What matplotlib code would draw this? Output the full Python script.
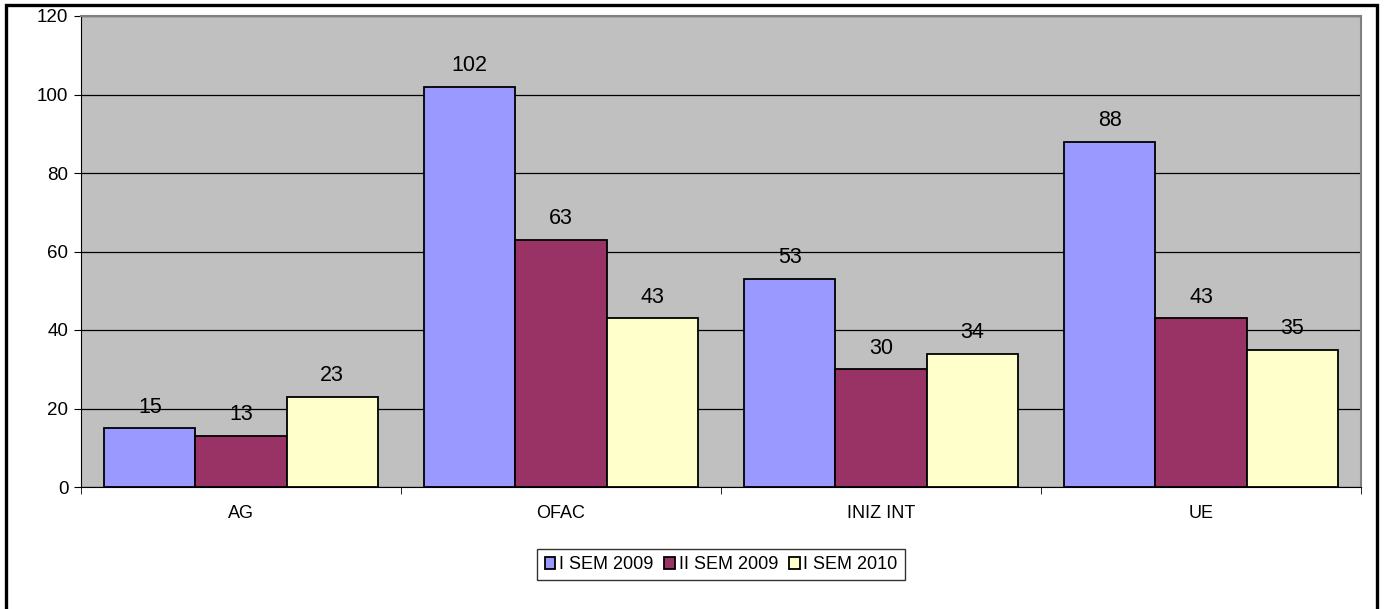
import numpy as np
import matplotlib.pyplot as plt
from matplotlib.patches import Rectangle

# data
categories = ["AG", "OFAC", "INIZ INT", "UE"]
series_names = ["I SEM 2009", "II SEM 2009", "I SEM 2010"]
sem1_2009 = [15, 102, 53, 88]
sem2_2009 = [13, 63, 30, 43]
sem1_2010 = [23, 43, 34, 35]
colors = ["#9999FF", "#993366", "#FFFFCC"]

plt.rcParams['font.family'] = ['Liberation Sans', 'DejaVu Sans']

fig = plt.figure(figsize=(13.86, 6.09), dpi=100)
W, H = 1386, 609
ax = fig.add_axes([81 / W, 1 - 487 / H, (1361 - 81) / W, (487 - 16) / H])
ax.set_facecolor("#C0C0C0")

x = np.arange(len(categories))
bw = 0.285
for i, (vals, name) in enumerate(zip([sem1_2009, sem2_2009, sem1_2010], series_names)):
    pos = x + (i - 1) * bw
    ax.bar(pos, vals, width=bw, color=colors[i], edgecolor="black",
           linewidth=1.3, label=name, zorder=3)
    for p, v in zip(pos, vals):
        ax.text(p, v + 2.7, str(v), ha="center", va="bottom", fontsize=15.5, zorder=4)

ax.set_xlim(-0.5, len(categories) - 0.5)
ax.set_ylim(0, 120)
ax.set_yticks(range(0, 121, 20))
ax.yaxis.grid(True, color="black", linewidth=0.9, zorder=1)
ax.set_axisbelow(True)

ax.set_xticks(x)
ax.set_xticklabels(categories, fontsize=13)
ax.set_xticks(np.arange(-0.5, len(categories), 1), minor=True)
ax.tick_params(axis="x", which="major", length=0, pad=13)
ax.tick_params(axis="x", which="minor", length=5, direction="out", color="black")
ax.tick_params(axis="y", length=5, direction="out", labelsize=13.5, pad=4)

for s in ["top", "right"]:
    ax.spines[s].set_color("#808080")
    ax.spines[s].set_linewidth(1.5)
ax.spines["left"].set_color("black")
ax.spines["bottom"].set_color("black")

leg = ax.legend(loc="center", bbox_to_anchor=(0.5, -0.165), ncol=3, fontsize=13,
                frameon=True, fancybox=False, edgecolor="black", handlelength=0.6,
                handleheight=0.6, handletextpad=0.2, columnspacing=0.6,
                borderpad=0.4)
leg.get_frame().set_linewidth(1.0)

# outer border (bottom edge falls outside the picture)
fig.patches.append(Rectangle((6 / W, -5 / H), (1377 - 6) / W, (609 + 5 - 5) / H,
                             transform=fig.transFigure, fill=False,
                             edgecolor="black", linewidth=2.4))

fig.savefig("out.png", dpi=100)
